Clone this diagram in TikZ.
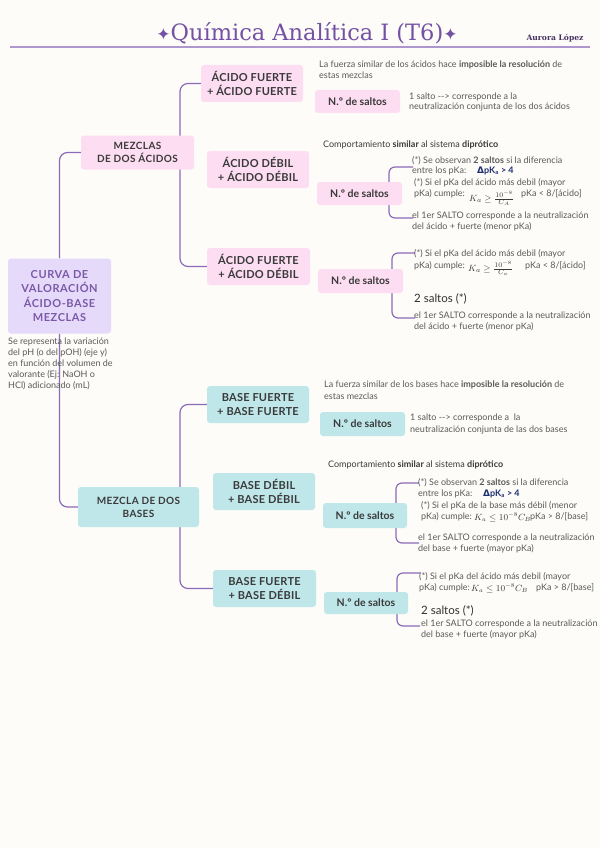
\documentclass[tikz,border=0pt]{standalone}
\usepackage{fontspec}
\setmainfont{Lato}
\newfontfamily\titlefont{DejaVu Serif}
\newfontfamily\symfont{DejaVu Sans}
\pgfdeclarelayer{back}
\pgfdeclarelayer{bg}
\pgfsetlayers{back,bg,main}
\definecolor{paper}{HTML}{FDFCF8}
\definecolor{lilac}{HTML}{8C6BB9}
\definecolor{pinkfill}{HTML}{FCDDF1}
\definecolor{tealfill}{HTML}{BFE7E9}
\definecolor{rootfill}{HTML}{E6DAFB}
\definecolor{rootink}{HTML}{7B59A6}
\definecolor{ink}{HTML}{3A3A3A}
\definecolor{grayink}{HTML}{5A5A5A}
\definecolor{navy}{HTML}{1F2F73}
\definecolor{titleink}{HTML}{7451A4}
\tikzset{
  box/.style={rounded corners=3pt, inner sep=0pt, align=center, text=ink,
    font=\bfseries\fontsize{11}{14}\selectfont\addfontfeatures{LetterSpace=2}},
  pinkbox/.style={box, fill=pinkfill},
  tealbox/.style={box, fill=tealfill},
  midbox/.style={box, font=\bfseries\fontsize{10}{13}\selectfont\addfontfeatures{LetterSpace=4}},
  saltbox/.style={box, font=\bfseries\fontsize{10.5}{12}\selectfont},
  rootbox/.style={box, fill=rootfill, text=rootink,
    font=\bfseries\fontsize{11}{14.5}\selectfont\addfontfeatures{LetterSpace=5}},
  conn/.style={draw=lilac, line width=1.2pt, rounded corners=8pt},
  txt/.style={anchor=base west, inner sep=0pt, text=grayink, font=\fontsize{9}{10}\selectfont},
  rtxt/.style={txt, font=\fontsize{9}{10}\selectfont},
  dtxt/.style={txt, text=ink},
  bigtxt/.style={txt, text=ink!85!black, font=\fontsize{11.5}{12}\selectfont},
  frm/.style={anchor=west, inner sep=0pt, text=ink, font=\fontsize{9.5}{10}\selectfont},
  frmb/.style={frm, font=\fontsize{9}{10}\selectfont},
  dpk/.style={anchor=west, inner sep=0pt, text=navy, font=\bfseries\fontsize{9}{10}\selectfont},
}
\newcommand\txtline[5][txt]{\node[#1] (#2) at (#3,#4) {#5};}
\newcommand\dpkt{{\symfont\bfseries Δ}pK\textsubscript{a} > 4}
\begin{document}
\begin{tikzpicture}[x=1pt,y=-1pt]
\begin{pgfonlayer}{back}
  \fill[paper] (0,0) rectangle (600,848);
\end{pgfonlayer}
\useasboundingbox (0,0) rectangle (600,848);

% header
\node[inner sep=0pt, text=titleink, font=\titlefont\fontsize{22.5}{25}\selectfont] (title) at (307,33)
  {{\symfont\fontsize{17}{17}\selectfont ✦}Química Analítica I (T6){\symfont\fontsize{17}{17}\selectfont ✦}};
\node[inner sep=0pt, text=titleink!60!black, font=\titlefont\bfseries\fontsize{7.6}{9}\selectfont] (author) at (555,38) {Aurora López};
\draw[lilac!70, line width=1.8pt] (10,47) -- (590,47);

% main nodes
\node[rootbox, minimum width=103pt, minimum height=75pt] (root) at (59.5,296) {CURVA DE\\VALORACIÓN\\ÁCIDO-BASE\\MEZCLAS};
\node[midbox, fill=pinkfill, minimum width=113pt, minimum height=34pt] (m1) at (137.5,152.5) {MEZCLAS\\DE DOS ÁCIDOS};
\node[midbox, fill=tealfill, minimum width=121pt, minimum height=40pt] (m2) at (138.5,507) {MEZCLA DE DOS\\BASES};

\node[pinkbox, minimum width=102pt, minimum height=37pt] (a1) at (252,83.5) {ÁCIDO FUERTE\\+ ÁCIDO FUERTE};
\node[pinkbox, minimum width=102pt, minimum height=37pt] (a2) at (258,169.5) {ÁCIDO DÉBIL\\+ ÁCIDO DÉBIL};
\node[pinkbox, minimum width=103pt, minimum height=37pt] (a3) at (258.5,266.5) {ÁCIDO FUERTE\\+ ÁCIDO DÉBIL};
\node[tealbox, minimum width=102pt, minimum height=37pt] (b1) at (258,404.5) {BASE FUERTE\\+ BASE FUERTE};
\node[tealbox, minimum width=102pt, minimum height=37pt] (b2) at (264,491.5) {BASE DÉBIL\\+ BASE DÉBIL};
\node[tealbox, minimum width=103pt, minimum height=37pt] (b3) at (264.5,588.5) {BASE FUERTE\\+ BASE DÉBIL};

\node[saltbox, fill=pinkfill, minimum width=85pt, minimum height=23pt] (s1) at (357.5,101.5) {N.º de saltos};
\node[saltbox, fill=pinkfill, minimum width=85pt, minimum height=23pt] (s2) at (359.5,193.5) {N.º de saltos};
\node[saltbox, fill=pinkfill, minimum width=85pt, minimum height=24pt] (s3) at (360.5,281) {N.º de saltos};
\node[saltbox, fill=tealfill, minimum width=85pt, minimum height=24pt] (s4) at (362.5,424) {N.º de saltos};
\node[saltbox, fill=tealfill, minimum width=84pt, minimum height=25pt] (s5) at (365,515.5) {N.º de saltos};
\node[saltbox, fill=tealfill, minimum width=84pt, minimum height=22pt] (s6) at (366,603) {N.º de saltos};

% connectors
\coordinate (m1j) at (180,152.5);
\coordinate (m2j) at (180,507);
\coordinate (br2t) at (413,167);  \coordinate (br2b) at (413,218);
\coordinate (br3t) at (415,253);  \coordinate (br3b) at (415,318);
\coordinate (br5t) at (419,483);  \coordinate (br5b) at (419,543);
\coordinate (br6t) at (420,573);  \coordinate (br6b) at (420,626);
\begin{pgfonlayer}{bg}
  \draw[conn] (root) |- (m1);
  \draw[conn] (root) |- (m2);
  \draw[conn] (m1j) |- (a1);
  \draw[conn] (m1j) |- (a3);
  \draw[conn] (m2j) |- (b1);
  \draw[conn] (m2j) |- (b3);
  \draw[conn, rounded corners=6pt] (br2t) -- ++(-24,0) -- ++(0,51) -- (br2b);
  \draw[conn, rounded corners=6pt] (br3t) -- ++(-23,0) -- ++(0,65) -- (br3b);
  \draw[conn, rounded corners=6pt] (br5t) -- ++(-23,0) -- ++(0,60) -- (br5b);
  \draw[conn, rounded corners=6pt] (br6t) -- ++(-23,0) -- ++(0,53) -- (br6b);
\end{pgfonlayer}

% root description
\txtline[rtxt]{r1}{8}{344.5}{Se representa la variación}
\txtline[rtxt]{r2}{8}{355.5}{del pH (o del pOH) (eje y)}
\txtline[rtxt]{r3}{8}{366.5}{en función del volumen de}
\txtline[rtxt]{r4}{8}{377.5}{valorante (Ej: NaOH o}
\txtline[rtxt]{r5}{8}{388.5}{HCl) adicionado (mL)}

% acids 1
\txtline{d1a}{319}{67.5}{La fuerza similar de los ácidos hace \textbf{imposible la resolución} de}
\txtline{d1b}{319}{78.5}{estas mezclas}
\txtline{t1a}{409}{99.5}{1 salto -{}-> corresponde a la}
\txtline{t1b}{409}{109.5}{neutralización conjunta de los dos ácidos}

% acids 2
\txtline[dtxt]{d2}{323}{147.5}{Comportamiento \textbf{similar} al sistema \textbf{diprótico}}
\txtline{t2a}{412}{163}{(*) Se observan \textbf{2 saltos} si la diferencia}
\txtline{t2b}{412}{173.5}{entre los pKa:}
\node[dpk] (f2a) at (477,171) {\dpkt};
\txtline{t2c}{414}{185.5}{(*) Si el pKa del ácido más debil (mayor}
\txtline{t2d}{414}{196.5}{pKa) cumple:}
\node[frm] (f2b) at (469,198.5) {$K_a \geq \frac{10^{-8}}{C_A}$};
\txtline{t2e}{521}{196.5}{pKa < 8/[ácido]}
\txtline{t2f}{412}{218.5}{el 1er SALTO corresponde a la neutralización}
\txtline{t2g}{412}{229.5}{del ácido + fuerte (menor pKa)}

% acids 3
\txtline{t3a}{414}{256.5}{(*) Si el pKa del ácido más debil (mayor}
\txtline{t3b}{414}{268.5}{pKa) cumple:}
\node[frm] (f3) at (468,268.5) {$K_a \geq \frac{10^{-8}}{C_a}$};
\txtline{t3c}{525}{268.5}{pKa < 8/[ácido]}
\txtline[bigtxt]{t3d}{414}{302}{2 saltos (*)}
\txtline{t3e}{414}{318.5}{el 1er SALTO corresponde a la neutralización}
\txtline{t3f}{414}{329.5}{del ácido + fuerte (menor pKa)}

% bases 1
\txtline{e1a}{324}{387.5}{La fuerza similar de los bases hace \textbf{imposible la resolución} de}
\txtline{e1b}{324}{399}{estas mezclas}
\txtline{u1a}{410}{420.5}{1 salto -{}-> corresponde a\ \ la}
\txtline{u1b}{410}{432.5}{neutralización conjunta de las dos bases}

% bases 2
\txtline[dtxt]{e2}{328}{467.5}{Comportamiento \textbf{similar} al sistema \textbf{diprótico}}
\txtline{u2a}{418}{485.5}{(*) Se observan \textbf{2 saltos} si la diferencia}
\txtline{u2b}{418}{496.5}{entre los pKa:}
\node[dpk] (f5a) at (483,494) {\dpkt};
\txtline{u2c}{421}{508.5}{(*) Si el pKa de la base más débil (menor}
\txtline{u2d}{421}{519.5}{pKa) cumple:}
\node[frmb] (f5b) at (474,517) {$K_a \leq 10^{-8}C_B$};
\txtline{u2e}{530}{519.5}{pKa > 8/[base]}
\txtline{u2f}{418}{540.5}{el 1er SALTO corresponde a la neutralización}
\txtline{u2g}{418}{551.5}{del base + fuerte (mayor pKa)}

% bases 3
\txtline{u3a}{419}{579.5}{(*) Si el pKa del ácido más debil (mayor}
\txtline{u3b}{419}{590.5}{pKa) cumple:}
\node[frmb] (f6) at (471,588) {$K_a \leq 10^{-8}C_B$};
\txtline{u3c}{536}{590.5}{pKa > 8/[base]}
\txtline[bigtxt]{u3d}{421}{614}{2 saltos (*)}
\txtline{u3e}{421}{626}{el 1er SALTO corresponde a la neutralización}
\txtline{u3f}{421}{637}{del base + fuerte (mayor pKa)}
\end{tikzpicture}
\end{document}
